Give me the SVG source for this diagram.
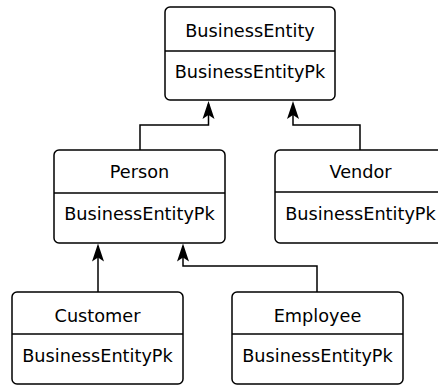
<svg xmlns="http://www.w3.org/2000/svg" width="438" height="385" viewBox="0 0 438 385">
<style>
.box{fill:#fff;stroke:#000;stroke-width:1.5}
.div{stroke:#000;stroke-width:1.3}
.t{font-family:"DejaVu Sans",sans-serif;font-size:17.7px;fill:#000;text-anchor:middle}
.c{fill:none;stroke:#000;stroke-width:1.5}
</style>
<rect width="438" height="385" fill="#fff"/>
<g id="connectors">
<path class="c" d="M140,150 V125 H208.5 V104"/>
<path class="c" d="M360,150 V125 H293 V104"/>
<path class="c" d="M98,292 V246"/>
<path class="c" d="M317,292 V266 H183 V246"/>
<path d="M208.5,101 L202.5,119 L208.5,115 L214.5,119 Z"/>
<path d="M293,101 L287,119 L293,115 L299,119 Z"/>
<path d="M98,243.5 L92,261.5 L98,257.5 L104,261.5 Z"/>
<path d="M183,243.5 L177,261.5 L183,257.5 L189,261.5 Z"/>
</g>
<g id="BusinessEntity">
<rect class="box" x="165" y="7" width="170" height="93" rx="5"/>
<line class="div" x1="165" y1="51" x2="335" y2="51"/>
<text class="t" x="250" y="37">BusinessEntity</text>
<text class="t" x="250" y="78">BusinessEntityPk</text>
</g>
<g id="Person">
<rect class="box" x="54" y="150" width="171" height="93" rx="5"/>
<line class="div" x1="54" y1="193" x2="225" y2="193"/>
<text class="t" x="139.5" y="178">Person</text>
<text class="t" x="139.5" y="220">BusinessEntityPk</text>
</g>
<g id="Vendor">
<rect class="box" x="275" y="150" width="171" height="93" rx="5"/>
<line class="div" x1="275" y1="192" x2="446" y2="192"/>
<text class="t" x="360.5" y="178">Vendor</text>
<text class="t" x="360.5" y="220">BusinessEntityPk</text>
</g>
<g id="Customer">
<rect class="box" x="12" y="292" width="171" height="92" rx="5"/>
<line class="div" x1="12" y1="334" x2="183" y2="334"/>
<text class="t" x="97.5" y="322">Customer</text>
<text class="t" x="97.5" y="362">BusinessEntityPk</text>
</g>
<g id="Employee">
<rect class="box" x="232" y="292" width="171" height="92" rx="5"/>
<line class="div" x1="232" y1="334" x2="403" y2="334"/>
<text class="t" x="317.5" y="322">Employee</text>
<text class="t" x="317.5" y="362">BusinessEntityPk</text>
</g>
</svg>
